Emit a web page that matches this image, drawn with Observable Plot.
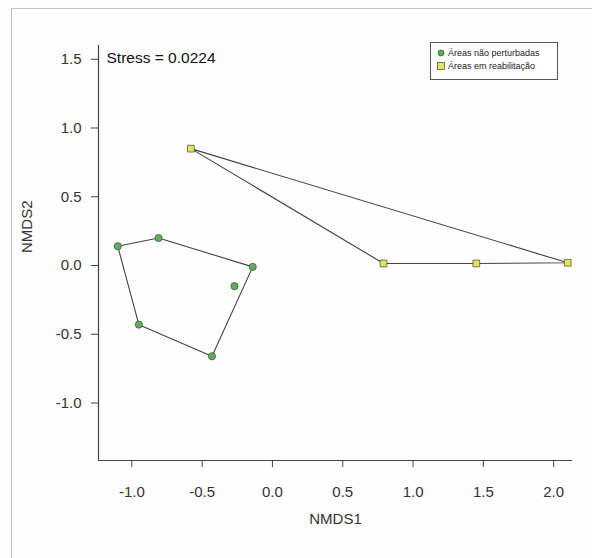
<!DOCTYPE html>
<html>
<head>
<meta charset="utf-8">
<script src="https://cdn.jsdelivr.net/npm/d3@7"></script>
<script src="https://cdn.jsdelivr.net/npm/@observablehq/plot@0.6"></script>
<style>
  html, body { margin: 0; padding: 0; background: #ffffff; }
  #wrap { position: relative; width: 592px; height: 558px; overflow: hidden; background: #fdfdfd; font-family: "Liberation Sans", Arial, sans-serif; }
  #border { position: absolute; left: 11px; top: 8px; width: 700px; height: 700px; border: 1px solid #c4c4c4; box-sizing: border-box; pointer-events: none; }
  #chart { position: absolute; left: 0; top: 0; }
  #legend { position: absolute; left: 430px; top: 42px; width: 128px; height: 38px; border: 1px solid #555; background: #fff; box-sizing: border-box; font-size: 9px; color: #222; padding: 4px 0 0 6px; line-height: 13px; }
  #legend svg { vertical-align: -1px; margin-right: 3px; }
</style>
</head>
<body>
<div id="wrap">
  <div id="chart"></div>
  <div id="border"></div>
  <div id="legend"></div>
</div>
<script>
const groups = ["Áreas não perturbadas", "Áreas em reabilitação"];
const naoX = [-1.10, -0.81, -0.14, -0.27, -0.95, -0.43];
const naoY = [0.14, 0.20, -0.01, -0.15, -0.43, -0.66];
const reabX = [-0.58, 0.79, 1.45, 2.10];
const reabY = [0.85, 0.015, 0.015, 0.02];
const xTicks = [-1.0, -0.5, 0.0, 0.5, 1.0, 1.5, 2.0];
const yTicks = [-1.0, -0.5, 0.0, 0.5, 1.0, 1.5];
const stressText = "Stress = 0.0224";

const data = [
  ...naoX.map((x, i) => ({x, y: naoY[i], group: groups[0]})),
  ...reabX.map((x, i) => ({x, y: reabY[i], group: groups[1]}))
];
const nao = data.filter(d => d.group === groups[0]);
const reab = data.filter(d => d.group === groups[1]);

const xDomain = [-1.237, 2.134];
const yDomain = [-1.418, 1.6];
const font = "Liberation Sans, Arial, sans-serif";
const fmt = d => d3.format(".1f")(d).replace("−", "-");

const chart = Plot.plot({
  width: 592,
  height: 558,
  marginLeft: 98,
  marginRight: 20,
  marginTop: 45,
  marginBottom: 98,
  style: {background: "transparent", fontFamily: font, fontSize: "15px", color: "#333"},
  x: {domain: xDomain, label: null},
  y: {domain: yDomain, label: null},
  marks: [
    Plot.axisX({ticks: xTicks, tickFormat: fmt, tickSize: 7, tickPadding: 19, fontSize: 15, stroke: "#444", fill: "#333", label: null}),
    Plot.axisY({ticks: yTicks, tickFormat: fmt, tickSize: 7, tickPadding: 10, fontSize: 15, stroke: "#444", fill: "#333", label: null}),
    Plot.ruleX([xDomain[0]], {stroke: "#444", strokeWidth: 1.2}),
    Plot.ruleY([yDomain[0]], {stroke: "#444", strokeWidth: 1.2}),
    Plot.hull(data, {x: "x", y: "y", z: "group", stroke: "#444", strokeWidth: 1.1}),
    Plot.dot(nao, {x: "x", y: "y", r: 3.6, fill: "#66a862", stroke: "#2f6b30", strokeWidth: 0.8}),
    Plot.dot(reab, {x: "x", y: "y", r: 3.8, symbol: "square", fill: "#e2e26a", stroke: "#5e5e22", strokeWidth: 0.8}),
    Plot.text([stressText], {frameAnchor: "top-left", dx: 8, dy: 6, fontSize: 15.5, fill: "#111", textAnchor: "start", text: d => d}),
    Plot.text(["NMDS1"], {frameAnchor: "bottom", dy: 63, fontSize: 15, fill: "#333", text: d => d}),
    Plot.text(["NMDS2"], {frameAnchor: "left", dx: -71, rotate: -90, fontSize: 15, fill: "#333", text: d => d})
  ]
});
document.getElementById("chart").appendChild(chart);

const legend = document.getElementById("legend");
legend.innerHTML = `
  <div><svg width="8" height="8"><circle cx="4" cy="4" r="3" fill="#66a862" stroke="#2f6b30" stroke-width="0.8"/></svg>${groups[0]}</div>
  <div><svg width="8" height="8"><rect x="0.5" y="0.5" width="7" height="7" fill="#e2e26a" stroke="#5e5e22" stroke-width="0.8"/></svg>${groups[1]}</div>`;
</script>
</body>
</html>
